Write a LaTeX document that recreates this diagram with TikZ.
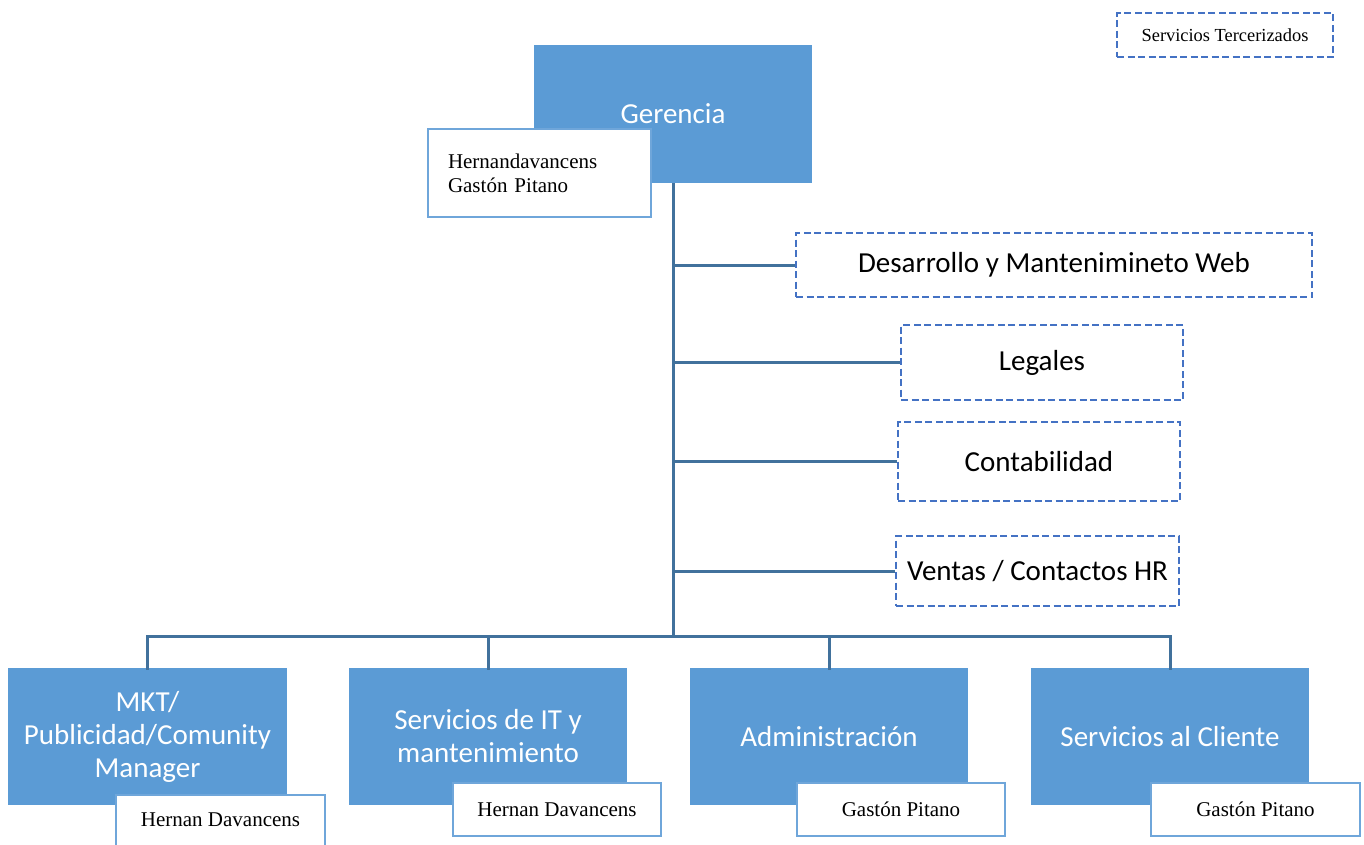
\documentclass[tikz,border=0pt]{standalone}
\usepackage{fontspec}
\setmainfont{Liberation Serif}
\newfontfamily\carlito{Carlito}
\definecolor{boxblue}{HTML}{5B9BD5}
\definecolor{linkblue}{HTML}{41719C}
\definecolor{dashblue}{HTML}{4472C4}
\definecolor{namebd}{HTML}{6FA6DA}
\tikzset{
  unitbox/.style={rectangle, fill=boxblue, draw=none, text=white, align=center, inner sep=0pt,
    font=\carlito\fontsize{29}{33}\selectfont},
  namebox/.style={rectangle, fill=white, draw=namebd, line width=2.5pt, inner sep=0pt, align=center,
    font=\fontsize{21}{24}\selectfont},
  extbox/.style={rectangle, fill=white, draw=dashblue, line width=2.5pt, dash pattern=on 7pt off 3.5pt,
    inner sep=0pt, align=center, font=\carlito\fontsize{29}{33}\selectfont},
  link/.style={draw=linkblue, line width=3pt}
}
\begin{document}
\begin{tikzpicture}[x=1pt,y=-1pt]
\useasboundingbox (0,0) rectangle (1364,844);
% legend
\node[extbox, minimum width=216pt, minimum height=44pt, font=\fontsize{18.4}{22}\selectfont] (leg) at (1225,35) {Servicios Tercerizados};
% top
\node[unitbox, minimum width=278pt, minimum height=138pt] (ger) at (673,114) {Gerencia};
\node[namebox, minimum width=223pt, minimum height=88pt, text width=183pt, align=left] (gern) at (539.5,173) {Hernandavancens\\Gastón Pitano};
% external services
\node[extbox, minimum width=516pt, minimum height=64pt] (web) at (1054,265) {Desarrollo y Mantenimineto Web};
\node[extbox, minimum width=282pt, minimum height=75pt] (leg2) at (1042,362.5) {Legales};
\node[extbox, minimum width=282pt, minimum height=79pt] (cont) at (1039,461.5) {Contabilidad};
\node[extbox, minimum width=283pt, minimum height=70pt] (vent) at (1037.5,571) {Ventas / Contactos HR};
% bottom units
\node[unitbox, minimum width=279pt, minimum height=137pt] (mkt) at (147.5,736.5) {MKT/\\Publicidad/Comunity\\Manager};
\node[unitbox, minimum width=278pt, minimum height=137pt] (it) at (488,736.5) {Servicios de IT y\\mantenimiento};
\node[unitbox, minimum width=278pt, minimum height=137pt] (adm) at (829,736.5) {Administración};
\node[unitbox, minimum width=278pt, minimum height=137pt] (cli) at (1170,736.5) {Servicios al Cliente};
% name boxes
\node[namebox, minimum width=209pt, minimum height=56pt] (mktn) at (220.5,823) {\raisebox{6pt}{Hernan Davancens}};
\node[namebox, minimum width=208pt, minimum height=53pt] (itn) at (557,809.5) {Hernan Davancens};
\node[namebox, minimum width=208pt, minimum height=53pt] (admn) at (901,809.5) {Gastón Pitano};
\node[namebox, minimum width=209pt, minimum height=53pt] (clin) at (1255.5,809.5) {Gastón Pitano};
% connectors
\coordinate (bus) at (673,636);
\draw[link] (ger.south) -- (bus);
\draw[link] (ger.south |- web.west) -- (web.west);
\draw[link] (ger.south |- leg2.west) -- (leg2.west);
\draw[link] (ger.south |- cont.west) -- (cont.west);
\draw[link] (ger.south |- vent.west) -- (vent.west);
\draw[link] ([yshift=-2pt]mkt.north) -- (mkt.north |- bus) -- (cli.north |- bus) -- ([yshift=-2pt]cli.north);
\draw[link] (it.north |- bus) -- ([yshift=-2pt]it.north);
\draw[link] (adm.north |- bus) -- ([yshift=-2pt]adm.north);
\end{tikzpicture}
\end{document}
